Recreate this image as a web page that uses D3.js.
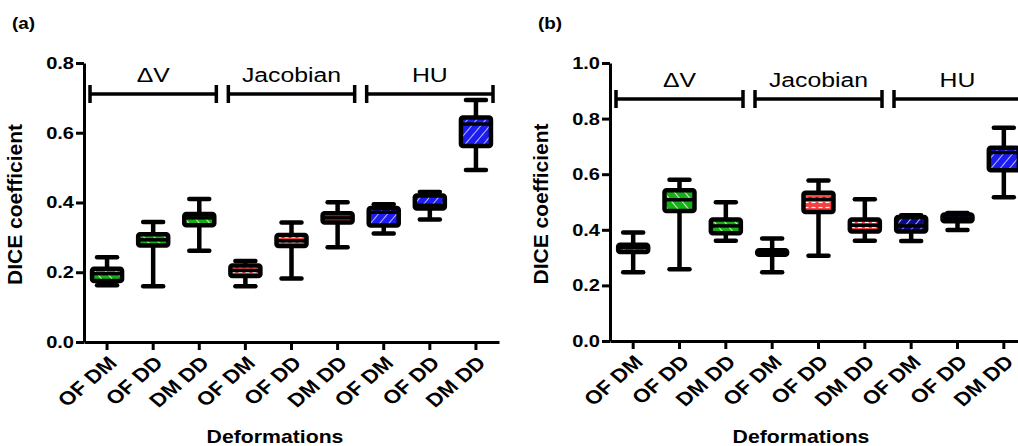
<!DOCTYPE html>
<html>
<head>
  <meta charset="UTF-8">
  <title>DICE coefficient box plots</title>
  <style>
    body { margin: 0; background: #fff; overflow: hidden; }
    svg { display: block; font-family: Arial, "Liberation Sans", sans-serif; }
    .axis path, .axis line { stroke: #000; stroke-width: 3px; }
    .axis text { font-weight: bold; fill: #000; }
    .whisker { stroke: #000; stroke-width: 4.5px; }
    .cap { stroke: #000; stroke-width: 4.5px; stroke-linecap: round; }
    .median { stroke: #000; stroke-width: 3.5px; }
    .bracket { stroke: #000; stroke-width: 3.5px; fill: none; }
  </style>
</head>
<body>

<svg id="chart"></svg>

<script src="https://d3js.org/d3.v7.min.js"></script>
<script>
const width = 1018;
const height = 446;
const sx = 1.18; // the original figure is stretched sideways

// categories along x, grouped by metric
const categories = ["OF DM", "OF DD", "DM DD", "OF DM", "OF DD", "DM DD", "OF DM", "OF DD", "DM DD"];
const groups = ["\u0394V", "Jacobian", "HU"];
const groupColors = ["#16b016", "#f44040", "#1c1cf0"];
const groupPatterns = ["diag", "hdash", "diag2"];

// panel (a) five-number summaries
const aMin = [0.163, 0.160, 0.262, 0.160, 0.182, 0.272, 0.311, 0.351, 0.493];
const aQ1  = [0.175, 0.277, 0.335, 0.189, 0.275, 0.343, 0.334, 0.383, 0.562];
const aMed = [0.196, 0.293, 0.356, 0.205, 0.290, 0.356, 0.372, 0.392, 0.625];
const aQ3  = [0.210, 0.309, 0.367, 0.219, 0.307, 0.369, 0.384, 0.420, 0.644];
const aMax = [0.243, 0.344, 0.410, 0.232, 0.343, 0.401, 0.395, 0.430, 0.694];
const aTicks = [0.0, 0.2, 0.4, 0.6, 0.8];

// panel (b) five-number summaries
const bMin = [0.247, 0.258, 0.361, 0.247, 0.307, 0.361, 0.360, 0.399, 0.517];
const bQ1  = [0.320, 0.468, 0.388, 0.310, 0.464, 0.394, 0.394, 0.431, 0.614];
const bMed = [0.336, 0.508, 0.414, 0.318, 0.510, 0.416, 0.414, 0.442, 0.678];
const bQ3  = [0.346, 0.542, 0.437, 0.326, 0.533, 0.437, 0.446, 0.455, 0.695];
const bMax = [0.390, 0.580, 0.499, 0.369, 0.577, 0.510, 0.452, 0.460, 0.767];
const bTicks = [0.0, 0.2, 0.4, 0.6, 0.8, 1.0];

const svg = d3.select("#chart")
  .attr("width", width)
  .attr("height", height);

// white hatch patterns drawn over the coloured fill
const defs = svg.append("defs");
defs.append("pattern").attr("id", "diag")
  .attr("width", 8).attr("height", 8)
  .attr("patternUnits", "userSpaceOnUse")
  .attr("patternTransform", "rotate(-40)")
  .append("line").attr("x1", 0).attr("y1", 0).attr("x2", 0).attr("y2", 8)
  .attr("stroke", "#fff").attr("stroke-width", 1.6);
defs.append("pattern").attr("id", "diag2")
  .attr("width", 7).attr("height", 7)
  .attr("patternUnits", "userSpaceOnUse")
  .attr("patternTransform", "rotate(40)")
  .append("line").attr("x1", 0).attr("y1", 0).attr("x2", 0).attr("y2", 7)
  .attr("stroke", "#fff").attr("stroke-width", 1.4);
const hd = defs.append("pattern").attr("id", "hdash")
  .attr("width", 7).attr("height", 5)
  .attr("patternUnits", "userSpaceOnUse");
hd.append("line").attr("x1", 0).attr("y1", 2.5).attr("x2", 4).attr("y2", 2.5)
  .attr("stroke", "#fff").attr("stroke-width", 1.2);

// horizontal text, widened like the source figure
function wideText(g, x, y, str, size, bold, anchor) {
  return g.append("text")
    .attr("transform", `translate(${x},${y}) scale(${sx},1)`)
    .attr("text-anchor", anchor || "middle")
    .style("font-size", size + "px")
    .style("font-weight", bold ? "bold" : "normal")
    .text(str);
}

function drawPanel(p) {
  const x = d3.scaleBand()
    .domain(d3.range(categories.length))
    .range([p.left, p.right])
    .padding(0);
  const y = d3.scaleLinear()
    .domain([0, p.ymax])
    .range([p.bottom, p.top]);

  const g = svg.append("g");

  // axes
  g.append("g")
    .attr("class", "axis")
    .attr("transform", `translate(${p.left},0)`)
    .call(d3.axisLeft(y).tickValues(p.ticks).tickFormat(d3.format(".1f")).tickSize(8).tickPadding(2).tickSizeOuter(0))
    .call(a => a.selectAll("text")
      .style("font-size", "17px")
      .attr("transform", `scale(${sx},1)`)
      .attr("x", -10 / sx));

  const xAxis = g.append("g")
    .attr("class", "axis")
    .attr("transform", `translate(0,${p.bottom})`)
    .call(d3.axisBottom(x).tickSize(8).tickSizeOuter(0).tickFormat(""));

  xAxis.selectAll(".tick")
    .append("text")
    .attr("transform", `translate(0,13) scale(${sx},1) rotate(-45)`)
    .attr("text-anchor", "end")
    .attr("dy", "0.7em")
    .style("font-size", "19px")
    .attr("fill", "#000")
    .text(i => categories[i]);

  // group brackets
  groups.forEach((name, gi) => {
    const x0 = x(gi * 3) + 6;
    const x1 = x(gi * 3 + 2) + x.bandwidth() - 6;
    const by = p.bracketY;
    g.append("line").attr("class", "bracket").attr("x1", x0).attr("x2", x1).attr("y1", by).attr("y2", by);
    [x0, x1].forEach(xx => g.append("line").attr("class", "bracket")
      .attr("stroke-width", 4)
      .attr("x1", xx).attr("x2", xx).attr("y1", by - 9).attr("y2", by + 9));
    wideText(g, (x0 + x1) / 2, by - 12, name, 21, false);
  });

  // boxes
  const bw = 30, cw = 20;
  const boxes = g.selectAll("g.box")
    .data(d3.range(categories.length))
    .join("g")
    .attr("class", "box")
    .attr("transform", i => `translate(${x(i) + x.bandwidth() / 2},0)`);

  boxes.append("line").attr("class", "whisker")
    .attr("y1", i => y(p.max[i])).attr("y2", i => y(p.min[i]));
  boxes.append("line").attr("class", "cap")
    .attr("x1", -cw / 2).attr("x2", cw / 2)
    .attr("y1", i => y(p.max[i])).attr("y2", i => y(p.max[i]));
  boxes.append("line").attr("class", "cap")
    .attr("x1", -cw / 2).attr("x2", cw / 2)
    .attr("y1", i => y(p.min[i])).attr("y2", i => y(p.min[i]));

  boxes.append("rect")
    .attr("x", -bw / 2).attr("width", bw)
    .attr("y", i => y(p.q3[i]))
    .attr("height", i => y(p.q1[i]) - y(p.q3[i]))
    .attr("fill", i => (p.dark[i] || groupColors[Math.floor(i / 3)]));
  boxes.append("rect")
    .attr("x", -bw / 2).attr("width", bw)
    .attr("y", i => y(p.q3[i]))
    .attr("height", i => y(p.q1[i]) - y(p.q3[i]))
    .attr("fill", i => `url(#${groupPatterns[Math.floor(i / 3)]})`)
    .attr("stroke", "#000").attr("stroke-width", 4.5).attr("rx", 2);
  boxes.append("line").attr("class", "median")
    .attr("x1", -bw / 2).attr("x2", bw / 2)
    .attr("y1", i => y(p.med[i])).attr("y2", i => y(p.med[i]));

  // axis titles
  g.append("text")
    .attr("transform", `translate(${p.left - 62},${(p.top + p.bottom) / 2 + 2}) rotate(-90)`)
    .attr("text-anchor", "middle")
    .style("font-size", "21px").style("font-weight", "bold")
    .text("DICE coefficient");
  wideText(g, p.left + 191, 443, "Deformations", 18, true);
  wideText(g, p.left - 72, 29, p.label, 16, true, "start");
}

drawPanel({
  label: "(a)", left: 84, right: 499, top: 63, bottom: 342, ymax: 0.8,
  ticks: aTicks, bracketY: 94,
  min: aMin, q1: aQ1, med: aMed, q3: aQ3, max: aMax, dark: []
});

drawPanel({
  label: "(b)", left: 610, right: 1027, top: 63, bottom: 341, ymax: 1.0,
  ticks: bTicks, bracketY: 99,
  min: bMin, q1: bQ1, med: bMed, q3: bQ3, max: bMax, dark: [null, null, null, null, null, null, "#0a0a90"]
});
</script>

</body>
</html>
